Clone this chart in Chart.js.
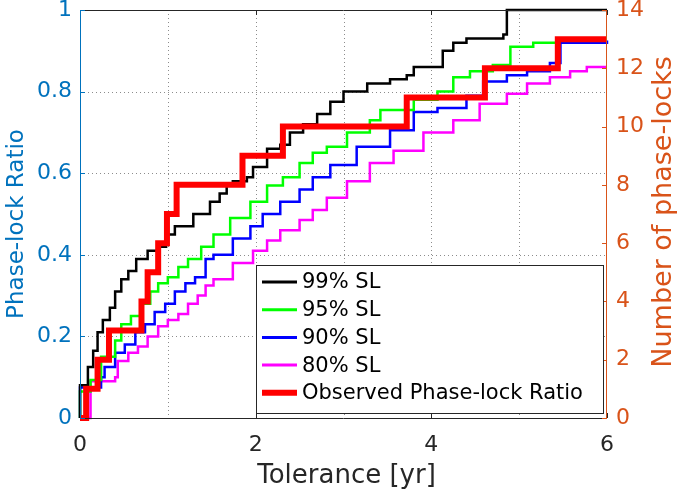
<!DOCTYPE html>
<html>
<head>
<meta charset="utf-8">
<script src="https://cdn.jsdelivr.net/npm/chart.js@4"></script>
<style>
  html, body { margin: 0; padding: 0; background: #fff; }
</style>
</head>
<body>
<canvas id="phaseChart" width="685" height="494"></canvas>
<script>
/* data */

// 99% significance level
const tol99 = [0, 0, 0.09, 0.15, 0.2, 0.26, 0.34, 0.4, 0.47, 0.55, 0.64, 0.77, 0.89, 0.98, 1.08, 1.29, 1.48, 1.59, 1.67, 1.74, 1.9, 1.97, 2.13, 2.28, 2.39, 2.54, 2.7, 2.85, 3.0, 3.27, 3.53, 3.72, 3.8, 4.13, 4.25, 4.4, 4.82, 4.86, 6];
const ratio99 = [0, 0.08, 0.125, 0.165, 0.21, 0.24, 0.27, 0.31, 0.34, 0.36, 0.39, 0.41, 0.42, 0.45, 0.47, 0.5, 0.53, 0.55, 0.575, 0.58, 0.59, 0.615, 0.66, 0.67, 0.7, 0.72, 0.745, 0.775, 0.8, 0.82, 0.83, 0.84, 0.86, 0.9, 0.92, 0.93, 0.94, 1.0, 1.0];

// 95%
const tol95 = [0, 0, 0.12, 0.24, 0.4, 0.47, 0.58, 0.7, 0.8, 0.89, 1.0, 1.12, 1.23, 1.38, 1.52, 1.71, 1.94, 2.13, 2.31, 2.5, 2.65, 2.81, 3.04, 3.3, 3.42, 3.8, 4.07, 4.25, 4.44, 4.7, 4.9, 5.16, 5.43, 6];
const ratio95 = [0, 0.065, 0.093, 0.15, 0.19, 0.23, 0.25, 0.28, 0.31, 0.33, 0.345, 0.37, 0.39, 0.42, 0.45, 0.49, 0.53, 0.57, 0.59, 0.625, 0.65, 0.665, 0.7, 0.73, 0.755, 0.78, 0.8, 0.835, 0.85, 0.865, 0.91, 0.92, 0.93, 0.93];

// 90%
const tol90 = [0, 0, 0.24, 0.28, 0.4, 0.51, 0.63, 0.74, 0.85, 0.97, 1.08, 1.2, 1.31, 1.43, 1.52, 1.74, 1.94, 2.08, 2.28, 2.5, 2.65, 2.85, 3.15, 3.53, 3.8, 4.07, 4.4, 4.59, 4.86, 5.09, 5.35, 5.47, 6];
const ratio90 = [0, 0.075, 0.1, 0.125, 0.16, 0.18, 0.21, 0.23, 0.26, 0.28, 0.31, 0.33, 0.345, 0.39, 0.4, 0.44, 0.47, 0.5, 0.53, 0.56, 0.59, 0.62, 0.665, 0.705, 0.75, 0.76, 0.79, 0.825, 0.84, 0.85, 0.87, 0.92, 0.925];

// 80%
const tol80 = [0, 0.12, 0.4, 0.43, 0.55, 0.66, 0.77, 0.89, 1.0, 1.12, 1.23, 1.34, 1.43, 1.52, 1.74, 1.97, 2.13, 2.28, 2.5, 2.65, 2.81, 3.04, 3.3, 3.57, 3.91, 4.25, 4.55, 4.86, 5.09, 5.35, 5.58, 5.77, 6];
const ratio80 = [0, 0.09, 0.1, 0.14, 0.16, 0.175, 0.2, 0.225, 0.24, 0.255, 0.28, 0.3, 0.325, 0.34, 0.38, 0.41, 0.435, 0.46, 0.485, 0.51, 0.54, 0.58, 0.625, 0.655, 0.7, 0.73, 0.77, 0.795, 0.82, 0.835, 0.85, 0.86, 0.86];

// observed number of phase-locks (right axis)
const tolObs = [0, 0.07, 0.2, 0.33, 0.7, 0.77, 0.89, 0.99, 1.1, 1.85, 2.31, 3.72, 4.61, 5.44, 6];
const countObs = [0, 1, 2, 3, 4, 5, 6, 7, 8, 9, 10, 11, 12, 13, 13];

const leftTicks = [0, 0.2, 0.4, 0.6, 0.8, 1];
const rightTicks = [0, 2, 4, 6, 8, 10, 12, 14];
const xGrid = [1, 2, 3, 4, 5];

const legendLabels = ["99% SL", "95% SL", "90% SL", "80% SL", "Observed Phase-lock Ratio"];

const BLUE_AX = "#0072BD";
const ORANGE_AX = "#D95319";
const FONT = "'DejaVu Sans', sans-serif";

const pairs = (xs, ys) => xs.map((x, i) => ({ x: x, y: ys[i] }));

// pin the plot box: 80..607 x 10..418
const fitY = w => s => { s.width = w; s.paddingTop = 10; s.paddingBottom = 0; };

/* grid, axis box, titles, legend */
const decor = {
  id: "decor",
  beforeDatasetsDraw(chart) {
    const { ctx, chartArea: a, scales } = chart;
    ctx.save();
    ctx.strokeStyle = "#8c8c8c";
    ctx.lineWidth = 1;
    ctx.setLineDash([1, 3]);
    xGrid.forEach(v => {
      const px = Math.round(scales.x.getPixelForValue(v)) + 0.5;
      ctx.beginPath(); ctx.moveTo(px, a.top); ctx.lineTo(px, a.bottom); ctx.stroke();
    });
    leftTicks.slice(1, -1).forEach(v => {
      const py = Math.round(scales.y.getPixelForValue(v)) + 0.5;
      ctx.beginPath(); ctx.moveTo(a.left, py); ctx.lineTo(a.right, py); ctx.stroke();
    });
    ctx.restore();
  },
  afterDatasetsDraw(chart) {
    const { ctx, chartArea: a, scales } = chart;
    ctx.save();
    ctx.lineWidth = 1;
    // top / bottom
    ctx.strokeStyle = "#262626";
    ctx.beginPath();
    ctx.moveTo(a.left, a.top + 0.5); ctx.lineTo(a.right, a.top + 0.5);
    ctx.moveTo(a.left, a.bottom + 0.5); ctx.lineTo(a.right, a.bottom + 0.5);
    [0, 2, 4, 6].forEach(v => {
      const px = Math.round(scales.x.getPixelForValue(v)) + 0.5;
      ctx.moveTo(px, a.bottom); ctx.lineTo(px, a.bottom - 5);
      ctx.moveTo(px, a.top); ctx.lineTo(px, a.top + 5);
    });
    ctx.stroke();
    // left axis
    ctx.strokeStyle = BLUE_AX;
    ctx.beginPath();
    ctx.moveTo(a.left + 0.5, a.top); ctx.lineTo(a.left + 0.5, a.bottom);
    leftTicks.forEach(v => {
      const py = Math.round(scales.y.getPixelForValue(v)) + 0.5;
      ctx.moveTo(a.left, py); ctx.lineTo(a.left + 5, py);
    });
    ctx.stroke();
    // right axis
    ctx.strokeStyle = ORANGE_AX;
    ctx.beginPath();
    ctx.moveTo(a.right - 0.5, a.top); ctx.lineTo(a.right - 0.5, a.bottom);
    rightTicks.forEach(v => {
      const py = Math.round(scales.y1.getPixelForValue(v)) + 0.5;
      ctx.moveTo(a.right, py); ctx.lineTo(a.right - 5, py);
    });
    ctx.stroke();
    ctx.restore();
  },
  afterDraw(chart) {
    const { ctx, chartArea: a } = chart;
    ctx.save();
    // axis titles
    ctx.textAlign = "center";
    ctx.textBaseline = "middle";
    ctx.font = "26px " + FONT;
    ctx.fillStyle = "#262626";
    ctx.fillText("Tolerance [yr]", (a.left + a.right) / 2 + 3, 476);

    ctx.font = "23px " + FONT;
    ctx.fillStyle = BLUE_AX;
    ctx.translate(17, (a.top + a.bottom) / 2 + 10);
    ctx.rotate(-Math.PI / 2);
    ctx.fillText("Phase-lock Ratio", 0, 0);
    ctx.setTransform(1, 0, 0, 1, 0, 0);

    ctx.font = "27px " + FONT;
    ctx.fillStyle = ORANGE_AX;
    ctx.translate(664, (a.top + a.bottom) / 2 - 2);
    ctx.rotate(-Math.PI / 2);
    ctx.fillText("Number of phase-locks", 0, 0);
    ctx.setTransform(1, 0, 0, 1, 0, 0);

    // legend box
    const box = { l: 256, t: 265, r: 603, b: 413 };
    ctx.fillStyle = "#fff";
    ctx.fillRect(box.l, box.t, box.r - box.l, box.b - box.t);
    ctx.strokeStyle = "#262626";
    ctx.lineWidth = 1;
    ctx.strokeRect(box.l + 0.5, box.t + 0.5, box.r - box.l, box.b - box.t);
    ctx.font = "21px " + FONT;
    ctx.textAlign = "left";
    const ds = chart.data.datasets;
    const order = [1, 2, 3, 4, 0];
    order.forEach((di, row) => {
      const y = 282 + row * 27.7;
      ctx.strokeStyle = ds[di].borderColor;
      ctx.lineWidth = di === 0 ? 6 : 3;
      ctx.beginPath(); ctx.moveTo(262, y); ctx.lineTo(297, y); ctx.stroke();
      ctx.fillStyle = "#000";
      ctx.fillText(legendLabels[row], 302, y + 1);
    });
    ctx.restore();
  }
};

new Chart(document.getElementById("phaseChart"), {
  type: "line",
  data: {
    datasets: [
      { data: pairs(tolObs, countObs), yAxisID: "y1", borderColor: "#FF0000", borderWidth: 6, order: 0 },
      { data: pairs(tol99, ratio99), yAxisID: "y", borderColor: "#000000", borderWidth: 2.5, order: 1 },
      { data: pairs(tol95, ratio95), yAxisID: "y", borderColor: "#00FF00", borderWidth: 2.5, order: 2 },
      { data: pairs(tol90, ratio90), yAxisID: "y", borderColor: "#0000FF", borderWidth: 2.5, order: 3 },
      { data: pairs(tol80, ratio80), yAxisID: "y", borderColor: "#FF00FF", borderWidth: 2.5, order: 4 }
    ]
  },
  options: {
    responsive: false,
    animation: false,
    layout: { padding: 0 },
    elements: {
      line: { stepped: "before", fill: false, borderJoinStyle: "miter", borderCapStyle: "butt" },
      point: { radius: 0 }
    },
    datasets: { line: { clip: 6 } },
    plugins: {
      legend: { display: false },
      tooltip: { enabled: false }
    },
    scales: {
      x: {
        type: "linear",
        min: 0, max: 6,
        grid: { display: false, drawTicks: false },
        border: { display: false },
        afterFit: s => { s.height = 76; s.paddingLeft = 0; s.paddingRight = 0; },
        ticks: {
          stepSize: 1,
          padding: 14,
          color: "#262626",
          font: { family: FONT, size: 22 },
          maxRotation: 0,
          callback: v => (v % 2 === 0 ? String(v) : "")
        }
      },
      y: {
        position: "left",
        min: 0, max: 1,
        grid: { display: false, drawTicks: false },
        border: { display: false },
        afterFit: fitY(80),
        ticks: {
          stepSize: 0.2,
          padding: 8,
          color: BLUE_AX,
          font: { family: FONT, size: 22 },
          callback: v => String(Number(v.toFixed(1)))
        }
      },
      y1: {
        position: "right",
        min: 0, max: 14,
        grid: { display: false, drawTicks: false },
        border: { display: false },
        afterFit: fitY(78),
        ticks: {
          stepSize: 2,
          padding: 9,
          color: ORANGE_AX,
          font: { family: FONT, size: 22 }
        }
      }
    }
  },
  plugins: [decor]
});
</script>
</body>
</html>
